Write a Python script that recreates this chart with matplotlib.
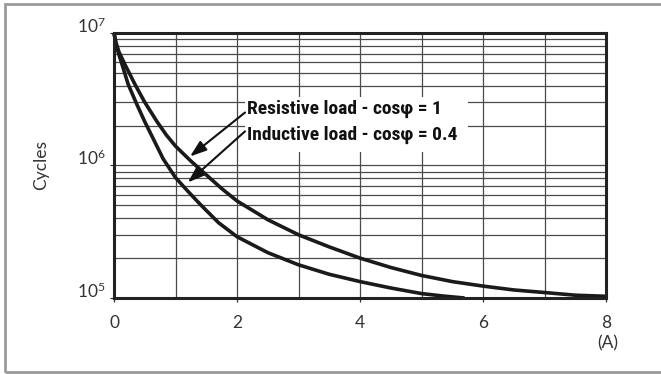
import matplotlib
matplotlib.use("Agg")
import matplotlib.pyplot as plt
from matplotlib.patches import Rectangle
from matplotlib.ticker import LogLocator, NullFormatter, FixedLocator

plt.rcParams['font.family'] = ['Lato', 'DejaVu Sans']
plt.rcParams['mathtext.fontset'] = 'custom'
plt.rcParams['mathtext.rm'] = 'Lato'

# values
res_x = [0, 0.03, 0.08, 0.18, 0.34, 0.5, 0.7, 0.85, 1.0, 1.25, 1.5, 1.75, 2.0, 2.5,
         3.0, 3.5, 4.0, 4.5, 5.0, 5.5, 6.0, 6.5, 7.0, 7.5, 8.0]
res_y = [1e7, 8.5e6, 7.2e6, 5.75e6, 4.1e6, 3.0e6, 2.14e6, 1.7e6, 1.4e6, 1.08e6, 8.5e5,
         6.7e5, 5.4e5, 3.9e5, 3.0e5, 2.43e5, 2.0e5, 1.7e5, 1.48e5, 1.33e5, 1.23e5,
         1.15e5, 1.1e5, 1.05e5, 1.03e5]
ind_x = [0, 0.03, 0.07, 0.125, 0.23, 0.37, 0.5, 0.65, 0.8, 1.0, 1.2, 1.4, 1.7, 2.0,
         2.5, 3.0, 3.5, 4.0, 4.5, 5.0, 5.35, 5.7]
ind_y = [1e7, 8.3e6, 7.1e6, 5.9e6, 4.1e6, 2.9e6, 2.14e6, 1.55e6, 1.12e6, 8.1e5, 6.4e5,
         5.1e5, 3.7e5, 2.9e5, 2.2e5, 1.78e5, 1.51e5, 1.33e5, 1.19e5, 1.08e5, 1.035e5, 1.0e5]
xticks = [0, 2, 4, 6, 8]
yticks = [1e5, 1e6, 1e7]
ytick_labels = [r'$\mathregular{10^{5}}$', r'$\mathregular{10^{6}}$', r'$\mathregular{10^{7}}$']
labels = ['Resistive load - cos\u03c6 = 1', 'Inductive load - cos\u03c6 = 0.4']

fig = plt.figure(figsize=(6.61, 3.74), dpi=100)
fig.patches.append(Rectangle((5 / 661, 2 / 374), 1.05, 368 / 374, transform=fig.transFigure,
                             fill=False, edgecolor='#9a9a9a', linewidth=2))
ax = fig.add_axes([0.1725, 0.2032, 0.7443, 0.7086])

ax.plot(res_x, res_y, color='#1a1a1a', lw=2.6, solid_capstyle='butt', zorder=4, clip_on=False)
ax.plot(ind_x, ind_y, color='#1a1a1a', lw=2.6, solid_capstyle='butt', zorder=4, clip_on=False)

ax.set_yscale('log')
ax.set_xlim(0, 8)
ax.set_ylim(1e5, 1e7)
ax.set_xticks(xticks)
ax.xaxis.set_minor_locator(FixedLocator([1, 3, 5, 7]))
ax.set_yticks(yticks)
ax.set_yticklabels(ytick_labels)
ax.yaxis.set_minor_locator(LogLocator(base=10, subs=range(2, 10)))
ax.yaxis.set_minor_formatter(NullFormatter())
ax.grid(True, which='both', color='#4a4a4a', lw=0.9, zorder=1)
ax.tick_params(axis='both', which='major', length=3, width=0.9, color='#333333',
               labelsize=12.5, labelcolor='#333333')
ax.tick_params(axis='x', pad=9)
ax.tick_params(axis='y', pad=3)
ax.tick_params(which='minor', length=0)
for t in ax.get_yticklabels():
    t.set_va('baseline')
for s in ax.spines.values():
    s.set_linewidth(2.2)
    s.set_color('#222222')
    s.set_zorder(5)

ax.set_ylabel('Cycles', fontsize=12.5, color='#333333', labelpad=20)
fig.text(608 / 661, 1 - 343 / 374, '(A)', fontsize=12.5, color='#333333', ha='center', va='center')

# white box behind the labels
ax.add_patch(Rectangle((0.266, 0.551), 0.4535, 0.207, transform=ax.transAxes,
                       facecolor='white', edgecolor='none', zorder=2))
lab_font = ['Roboto Condensed', 'Liberation Sans Narrow', 'Roboto', 'DejaVu Sans']
ax.text(2.16, 2.65e6, labels[0], fontsize=14, fontweight='bold', color='#111111',
        family=lab_font, va='center', ha='left', zorder=3)
ax.text(2.16, 1.71e6, labels[1], fontsize=14, fontweight='bold', color='#111111',
        family=lab_font, va='center', ha='left', zorder=3)

arrow = dict(arrowstyle='-|>,head_length=1.0,head_width=0.35', color='#111111', lw=1.5,
             shrinkA=0, shrinkB=0)
ax.annotate('', xy=(1.236, 1.17e6), xytext=(2.13, 2.51e6), arrowprops=arrow, zorder=4)
ax.annotate('', xy=(1.20, 7.45e5), xytext=(2.13, 1.81e6), arrowprops=arrow, zorder=4)

fig.savefig('out.png', dpi=100)
